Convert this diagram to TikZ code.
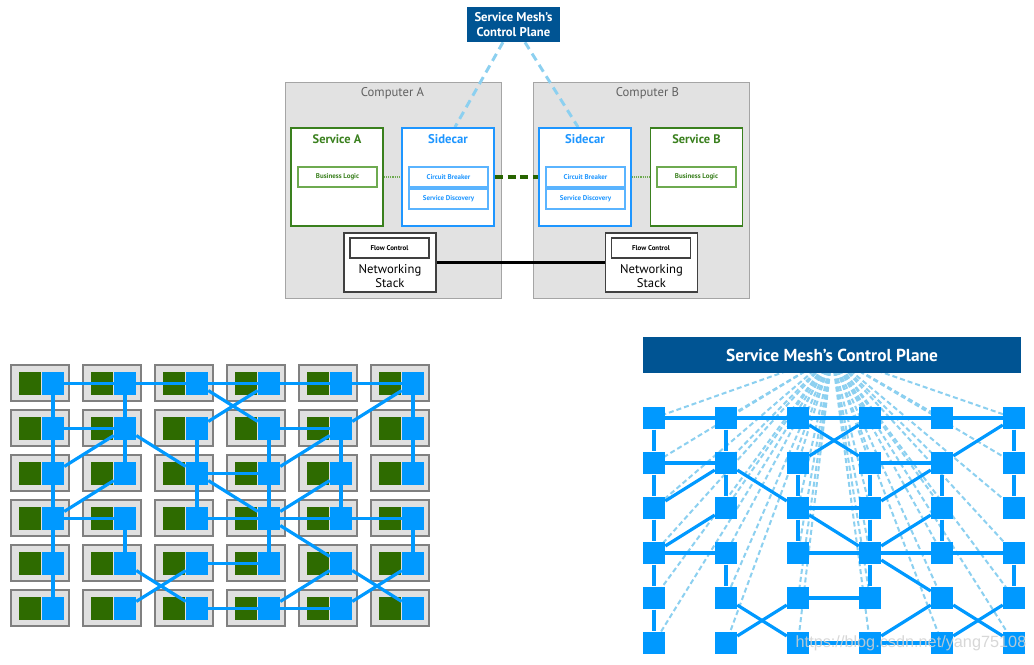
\documentclass[tikz,border=0pt]{standalone}
\usepackage{fontspec}
\setmainfont{PT Sans}
\newfontfamily\wmfont{Liberation Sans}
\usetikzlibrary{calc}
\pgfdeclarelayer{paper}
\pgfdeclarelayer{cells}
\pgfdeclarelayer{links}
\pgfsetlayers{paper,cells,links,main}
\definecolor{cpblue}{RGB}{0,84,147}
\definecolor{nodeblue}{RGB}{0,153,255}
\definecolor{cellgreen}{RGB}{46,107,0}
\definecolor{cellgray}{RGB}{224,224,224}
\definecolor{cellborder}{RGB}{128,128,128}
\definecolor{compfill}{RGB}{226,226,226}
\definecolor{compborder}{RGB}{165,165,165}
\definecolor{svcgreen}{RGB}{58,128,30}
\definecolor{blgreen}{RGB}{110,170,80}
\definecolor{sideblue}{RGB}{30,150,255}
\definecolor{cbblue}{RGB}{90,180,255}
\definecolor{ctrlblue}{RGB}{140,208,240}
\definecolor{dashgreen}{RGB}{40,100,0}
\begin{document}
\begin{tikzpicture}[x=0.75pt,y=-0.75pt,
  cpbox/.style={fill=cpblue,text=white,font=\bfseries\fontsize{9.5}{11}\selectfont,align=center,minimum width=69.75pt,minimum height=26.25pt,inner sep=0pt},
  compbox/.style={fill=compfill,draw=compborder,line width=0.75pt,minimum width=162pt,minimum height=162pt,inner sep=0pt},
  comptext/.style={text=black!62,font=\fontsize{9.5}{10}\selectfont,inner sep=0pt},
  svcbox/.style={draw=svcgreen,fill=white,line width=1.4pt,minimum width=69pt,minimum height=73.5pt,inner sep=0pt},
  sidebox/.style={draw=sideblue,fill=white,line width=1.4pt,minimum width=69pt,minimum height=73.5pt,inner sep=0pt},
  svctitle/.style={text=svcgreen,font=\bfseries\fontsize{9.3}{10}\selectfont,inner sep=0pt},
  sidetitle/.style={text=sideblue,font=\bfseries\fontsize{9.5}{10}\selectfont,inner sep=0pt},
  blbox/.style={draw=blgreen,fill=white,line width=0.8pt,minimum width=59.25pt,minimum height=15pt,inner sep=0pt,text=svcgreen,font=\bfseries\fontsize{5.2}{6}\selectfont},
  cbbox/.style={draw=cbblue,fill=white,line width=0.8pt,minimum width=59.25pt,minimum height=15pt,inner sep=0pt,text=sideblue,font=\bfseries\fontsize{5.2}{6}\selectfont},
  netbox/.style={draw=black!75,fill=white,line width=0.9pt,minimum width=69pt,minimum height=44.25pt,inner sep=0pt},
  fcbox/.style={draw=black!75,fill=white,line width=0.9pt,minimum width=59.25pt,minimum height=15pt,inner sep=0pt,font=\bfseries\fontsize{5.2}{6}\selectfont},
  nettext/.style={font=\fontsize{9.5}{11}\selectfont,align=center,inner sep=0pt},
  topdash/.style={draw=ctrlblue,line width=2.2pt,dash pattern=on 6pt off 4pt},
  greendash/.style={draw=dashgreen,line width=2.4pt,dash pattern=on 6pt off 3.5pt},
  greendot/.style={draw=blgreen,line width=0.8pt,dash pattern=on 0.8pt off 0.8pt},
  netline/.style={draw=black,line width=2.4pt},
  cellbox/.style={fill=cellgray,draw=cellborder,line width=1pt,minimum width=43.5pt,minimum height=27pt,inner sep=0pt},
  greensq/.style={fill=cellgreen,minimum width=16.5pt,minimum height=17pt,inner sep=0pt},
  bluesq/.style={fill=nodeblue,minimum width=16.5pt,minimum height=17pt,inner sep=0pt},
  link/.style={draw=nodeblue,line width=2.4pt},
  ctrl/.style={draw=ctrlblue,line width=1.5pt,dash pattern=on 3.75pt off 2.25pt},
  banner/.style={fill=cpblue,text=white,font=\bfseries\fontsize{13}{14}\selectfont,minimum width=283.5pt,minimum height=27pt,inner sep=0pt}
]
\useasboundingbox (0,0) rectangle (1034,664);
\begin{pgfonlayer}{paper}
\fill[white] (0,0) rectangle (1034,664);
\end{pgfonlayer}

% ---------- top diagram ----------
\node[cpbox] (cp) at (513.5,24.5) {Service Mesh’s\\Control Plane};
\begin{pgfonlayer}{cells}
\node[compbox] (compA) at (393,190) {};
\node[compbox] (compB) at (641,190) {};
\end{pgfonlayer}
\node[comptext] (compAt) at (392.5,93) {Computer A};
\node[comptext] (compBt) at (647.5,93) {Computer B};
\node[svcbox] (svcA) at (337,177) {};
\node[sidebox] (sideA) at (448,177) {};
\node[sidebox] (sideB) at (585,177) {};
\node[svcbox] (svcB) at (696.5,177) {};
\node[svctitle] (svcAt) at (337,139) {Service A};
\node[sidetitle] (sideAt) at (448,139) {Sidecar};
\node[sidetitle] (sideBt) at (585,139) {Sidecar};
\node[svctitle] (svcBt) at (696.5,139) {Service B};
\node[blbox] (blA) at (337.5,177) {Business Logic};
\node[cbbox] (cbA) at (448.5,177) {Circuit Breaker};
\node[cbbox] (sdA) at (448.5,199) {Service Discovery};
\node[cbbox] (cbB) at (585.5,177) {Circuit Breaker};
\node[cbbox] (sdB) at (585.5,199) {Service Discovery};
\node[blbox] (blB) at (696.5,177) {Business Logic};
\node[netbox] (netA) at (390,262.5) {};
\node[netbox] (netB) at (651.5,262.5) {};
\node[fcbox] (fcA) at (389.5,248) {Flow Control};
\node[fcbox] (fcB) at (651,248) {Flow Control};
\node[nettext] (netAt) at (390,276) {Networking\\Stack};
\node[nettext] (netBt) at (651.5,276) {Networking\\Stack};
\begin{pgfonlayer}{links}
\draw[topdash] ([xshift=-7.9pt]cp.south) -- ([xshift=5.25pt]sideA.north);
\draw[topdash] ([xshift=8.6pt]cp.south) -- ([xshift=-5.25pt]sideB.north);
\draw[greendash] (sideA.east |- cbA.east) -- (sideB.west |- cbB.west);
\draw[greendot] (blA.east) -- (cbA.west);
\draw[greendot] (cbB.east) -- (blB.west);
\draw[netline] (netA) -- (netB);
\end{pgfonlayer}

% ---------- grids ----------
\node[banner] (cp2) at (832,355) {Service Mesh’s Control Plane};
\foreach \r in {1,...,6} {
  \foreach \c in {1,...,6} {
    \pgfmathsetmacro\lx{53+72*(\c-1)}
    \pgfmathsetmacro\ly{383.5+45*(\r-1)}
    \pgfmathsetmacro\rx{654+72*(\c-1)}
    \pgfmathsetmacro\ry{418+45*(\r-1)}
    \begin{pgfonlayer}{cells}
      \node[cellbox] (Lcell-\r-\c) at (\lx-13,\ly-0.5) {};
      \node[greensq] (Lg-\r-\c) at (\lx-23,\ly) {};
    \end{pgfonlayer}
    \node[bluesq] (L-\r-\c) at (\lx,\ly) {};
    \node[bluesq] (R-\r-\c) at (\rx,\ry) {};
  }
}
\begin{pgfonlayer}{links}
\foreach \r in {1,...,6} {
  \foreach \c in {1,...,6} {
    \draw[ctrl] (cp2.center) -- (R-\r-\c.center);
  }
}
\foreach \a/\b in {1-1/1-2,1-2/1-3,1-3/1-4,1-4/1-5,1-5/1-6,
  1-1/2-1,1-2/2-2,1-3/2-4,1-4/2-3,1-6/2-5,1-6/2-6,
  2-1/2-2,2-1/3-1,2-2/3-1,2-2/3-2,2-2/3-3,2-3/3-3,2-4/2-5,2-4/3-4,2-5/3-4,2-5/3-5,2-6/3-6,
  3-1/4-1,3-2/4-1,3-3/3-4,3-3/4-3,3-3/4-4,3-4/4-4,3-5/4-4,3-5/4-5,
  4-1/4-2,4-1/5-1,4-2/5-2,4-3/4-4,4-4/4-5,4-5/4-6,4-4/5-4,4-4/5-5,4-6/5-6,
  5-1/6-1,5-2/6-3,6-2/5-3,5-3/5-4,5-5/6-4,5-5/6-6,5-6/6-5,6-3/6-4,6-4/6-5} {
  \draw[link] (L-\a) -- (L-\b);
  \draw[link] (R-\a) -- (R-\b);
}
\end{pgfonlayer}
\node[text=white!82!black,opacity=0.85,font=\wmfont\fontsize{12.2}{14}\selectfont,inner sep=0pt] (wm) at (911,643) {https://blog.csdn.net/yang75108};
\end{tikzpicture}
\end{document}
